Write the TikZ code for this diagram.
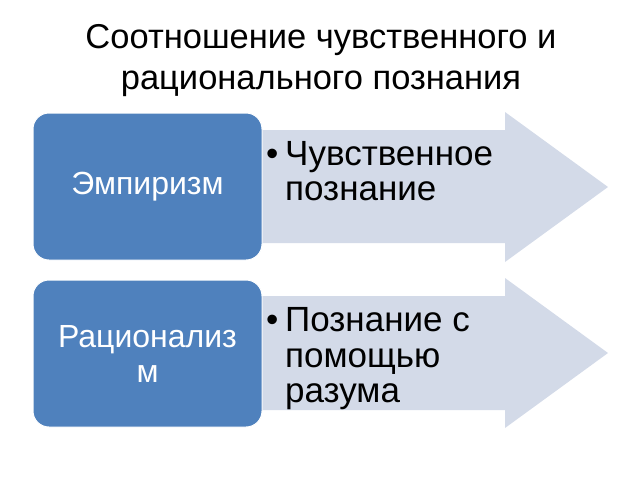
\documentclass[tikz,border=0pt]{standalone}
\usepackage{fontspec}
\setmainfont{Liberation Sans}
\definecolor{boxblue}{HTML}{4F81BD}
\definecolor{arrowgray}{HTML}{D3DAE8}

\tikzstyle{termbox} = [rectangle, rounded corners=16pt, minimum width=229pt, minimum height=147pt, inner sep=0pt, fill=boxblue, draw=white, line width=1pt, text=white, align=center, font=\fontsize{32}{35}\selectfont]
\tikzstyle{itemtext} = [inner sep=0pt, anchor=west, align=left, font=\fontsize{35}{35.5}\selectfont]
\tikzstyle{bigarrow} = [fill=arrowgray]

\begin{document}
\begin{tikzpicture}[x=1pt, y=-1pt]
			\useasboundingbox (0,0) rectangle (640,480);
			\node (title) [align=center, font=\fontsize{34.5}{41}\selectfont] at (321,61) {Соотношение чувственного и\\рационального познания};

			% arrows behind the boxes
			\fill [bigarrow] (230,130) -- (505,130) -- (505,112) -- (608,187) -- (505,262) -- (505,243) -- (230,243) -- cycle;
			\fill [bigarrow] (230,296) -- (505,296) -- (505,278) -- (608,353) -- (505,428) -- (505,410) -- (230,410) -- cycle;

			\node (emp) [termbox] at (147.5,186.5) {Эмпиризм};
			\node (rat) [termbox] at (147.5,353.5) {Рационализ\\м};

			\node (sens) [itemtext] at (266,171) {\makebox[19pt][l]{•}Чувственное\\\hspace*{19pt}познание};
			\node (mind) [itemtext] at (266,359) {\makebox[19pt][l]{•}Познание с\\\hspace*{19pt}помощью\\\hspace*{19pt}разума};
		\end{tikzpicture}
\end{document}
